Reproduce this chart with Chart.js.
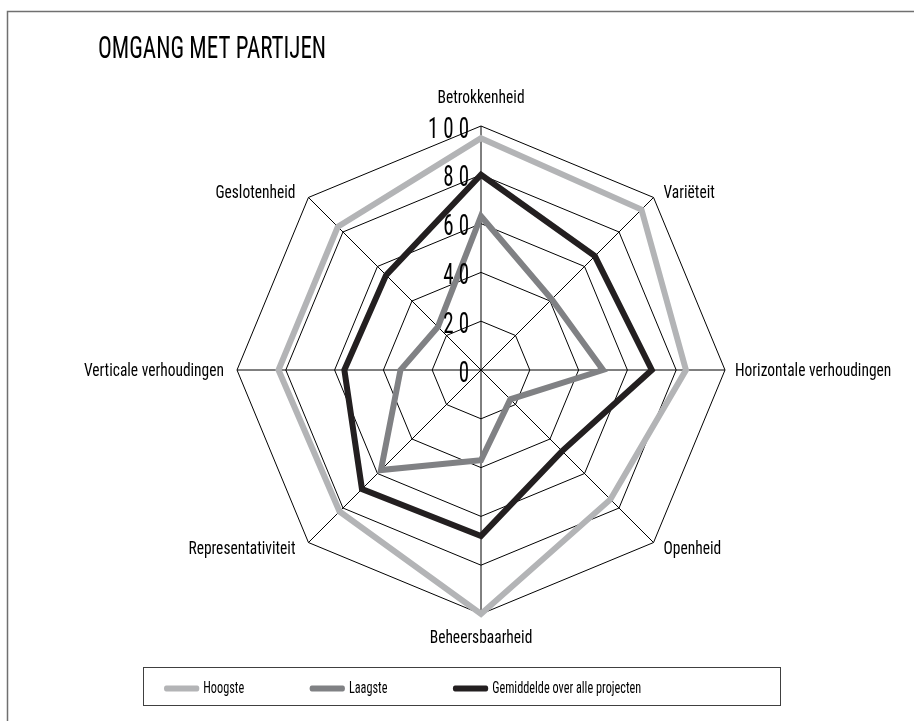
<!DOCTYPE html>
<html><head><meta charset="utf-8">
<script src="https://cdn.jsdelivr.net/npm/chart.js@4.4.1/dist/chart.umd.min.js"></script>
<style>html,body{margin:0;padding:0;background:#fff;overflow:hidden}</style>
</head><body><canvas id="c" width="914" height="721"></canvas>
<script>
const categories = ['Betrokkenheid', 'Variëteit', 'Horizontale verhoudingen', 'Openheid', 'Beheersbaarheid', 'Representativiteit', 'Verticale verhoudingen', 'Geslotenheid'];
const seriesNames = ['Hoogste', 'Laagste', 'Gemiddelde over alle projecten'];
const hoogste = [95, 93, 84, 75, 100, 82, 83, 83];
const laagste = [63, 41, 50, 17, 37, 58, 33, 25];
const gemiddelde = [80, 66, 70, 47, 68, 69, 56, 55];
const titleText = 'OMGANG MET PARTIJEN';

const FONT = "'Roboto Condensed', 'Open Sans Condensed', sans-serif";
const C_HIGH = '#b3b4b6', C_LOW = '#808184', C_AVG = '#231f20';
// horizontal condensing of the library-drawn title / legend (reference uses a condensed face)
const TITLE_SX = 0.72, TITLE_DX = 50;
const LEGEND_SX = 0.72, LEGEND_DX = 50.5, LEGEND_DY = -28;
const LABEL_SX = 0.86, TICK_SX = 0.7;

function condense(box, sx, dx, dy) {
  if (!box || box._condensed) return;
  const orig = box.draw;
  box.draw = function (...args) {
    const ctx = this.ctx;
    ctx.save();
    ctx.translate(this.left + dx, dy);
    ctx.scale(sx, 1);
    ctx.translate(-this.left, 0);
    orig.apply(this, args);
    ctx.restore();
  };
  box._condensed = true;
}

const framePlugin = {
  id: 'frame',
  beforeDraw(chart) {
    condense(chart.titleBlock, TITLE_SX, TITLE_DX, 0);
    condense(chart.legend, LEGEND_SX, LEGEND_DX, LEGEND_DY);
    const ctx = chart.ctx;
    ctx.save(); ctx.strokeStyle = '#707070'; ctx.lineWidth = 1.5;
    ctx.strokeRect(7.5, 11.5, 1200, 1200);
    ctx.restore();
  },
  afterDraw(chart) {
    const ctx = chart.ctx;
    ctx.save(); ctx.strokeStyle = '#404040'; ctx.lineWidth = 1;
    ctx.strokeRect(143.5, 667.5, 637, 38);
    ctx.restore();
  }
};

const tickLabelPlugin = {
  id: 'tickLabels',
  afterDatasetsDraw(chart) {
    const s = chart.scales.r, ctx = chart.ctx;
    s.ticks.forEach(t => {
      const d = s.getDistanceFromCenterForValue(t.value);
      ctx.save();
      ctx.translate(s.xCenter - 12, s.yCenter - d + 4);
      ctx.scale(TICK_SX, 1);
      ctx.font = `30px ${FONT}`;
      ctx.textAlign = 'right'; ctx.textBaseline = 'middle'; ctx.fillStyle = '#000';
      ctx.letterSpacing = '7px';
      ctx.fillText(t.label, 7, 0);
      ctx.restore();
    });
  }
};

const pointLabelPlugin = {
  id: 'pointLabels',
  afterDraw(chart) {
    const s = chart.scales.r, ctx = chart.ctx;
    chart.data.labels.forEach((lab, i) => {
      const p = s.getPointPosition(i, s.drawingArea);
      const cx = Math.cos(p.angle), cy = Math.sin(p.angle);
      let x = p.x, y = p.y, align;
      if (Math.abs(cx) < 0.01) { align = 'center'; y += cy < 0 ? -23 : 29; }
      else {
        align = cx > 0 ? 'left' : 'right';
        x += cx > 0 ? 10 : -13;
        if (Math.abs(cy) < 0.01) y += 6; else y += cy < 0 ? 1 : 11;
      }
      ctx.save();
      ctx.translate(x, y);
      ctx.scale(LABEL_SX, 1);
      ctx.font = `18px ${FONT}`; ctx.fillStyle = '#000'; ctx.textBaseline = 'alphabetic';
      ctx.textAlign = align;
      ctx.fillText(lab, 0, 0);
      ctx.restore();
    });
  }
};

new Chart(document.getElementById('c'), {
  type: 'radar',
  data: {
    labels: categories,
    datasets: [
      { label: seriesNames[0], data: hoogste, borderColor: C_HIGH, backgroundColor: C_HIGH },
      { label: seriesNames[1], data: laagste, borderColor: C_LOW, backgroundColor: C_LOW },
      { label: seriesNames[2], data: gemiddelde, borderColor: C_AVG, backgroundColor: C_AVG }
    ]
  },
  options: {
    responsive: false, devicePixelRatio: 1, animation: false,
    layout: { padding: { left: 48, right: 0, top: 0, bottom: -14 } },
    elements: {
      line: { borderWidth: 6, fill: false, tension: 0, borderJoinStyle: 'miter', borderCapStyle: 'round' },
      point: { radius: 0, hoverRadius: 0 }
    },
    scales: {
      r: {
        min: 0, max: 100,
        ticks: { display: false, stepSize: 20 },
        grid: { color: '#000', lineWidth: 1 },
        angleLines: { color: '#000', lineWidth: 1 },
        pointLabels: { display: false }
      }
    },
    plugins: {
      title: { display: true, text: titleText, align: 'start', color: '#000',
        font: { family: FONT, size: 32, weight: 'normal', lineHeight: 1.25 }, padding: { top: 30, bottom: 56 } },
      legend: { position: 'bottom', align: 'start',
        labels: { usePointStyle: true, pointStyle: 'line', pointStyleWidth: 43, padding: 94, color: '#000',
          font: { family: FONT, size: 17 },
          generateLabels(chart) {
            const items = Chart.defaults.plugins.legend.labels.generateLabels(chart);
            items.forEach(it => {
              const ds = chart.data.datasets[it.datasetIndex];
              it.lineWidth = 6; it.lineCap = 'round'; it.strokeStyle = ds.borderColor;
            });
            return items;
          } } },
      tooltip: { enabled: false }
    }
  },
  plugins: [framePlugin, tickLabelPlugin, pointLabelPlugin]
});
</script></body></html>
